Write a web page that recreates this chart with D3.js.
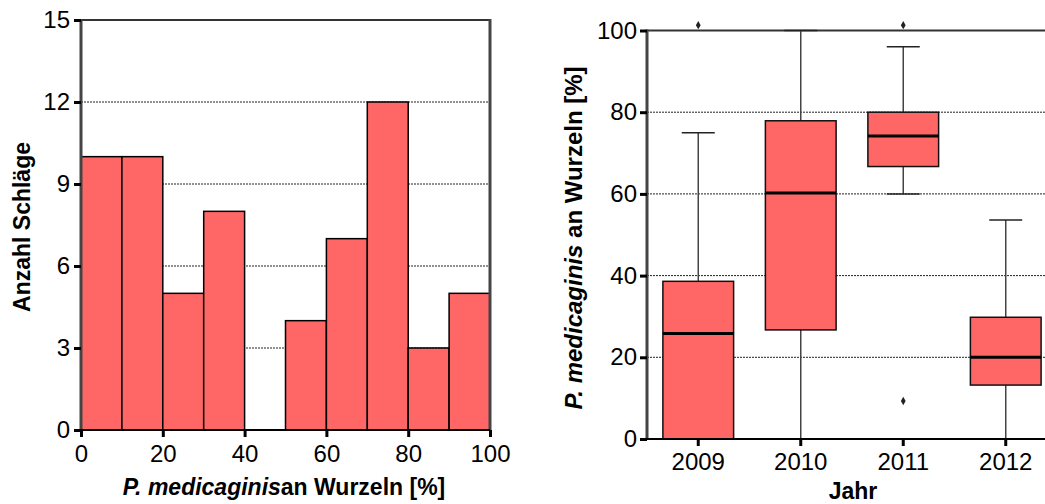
<!DOCTYPE html>
<html>
<head>
<meta charset="utf-8">
<script src="https://cdn.jsdelivr.net/npm/d3@7"></script>
<style>
  body { margin: 0; background: #fff; }
  svg { display: block; font-family: "Liberation Sans", Arial, sans-serif; }
  .tick text { font-size: 24px; fill: #000; }
  .title { font-size: 23px; font-weight: bold; }
</style>
</head>
<body>
<div id="chart"></div>
<script>
// histogram: count per 10% class
var binStarts = [0, 10, 20, 30, 40, 50, 60, 70, 80, 90],
    binCounts = [10, 10, 5, 8, 0, 4, 7, 12, 3, 5],
    histTicksX = [0, 20, 40, 60, 80, 100],
    histTicksY = [0, 3, 6, 9, 12, 15];

// box plot per year
var years = ['2009', '2010', '2011', '2012'],
    whiskLow = [0, 0, 60, 0],
    q1 = [0, 26.7, 66.7, 13.2],
    median = [25.8, 60.2, 74.2, 20],
    q3 = [38.6, 77.9, 80, 29.8],
    whiskHigh = [75, 100, 96, 53.6],
    outliers = [[101.3], [], [101.3, 9.3], []],
    boxTicksY = [0, 20, 40, 60, 80, 100];

const Fill = '#ff6666',
    AxisGrey = '#444';

var svg = d3.select('#chart').append('svg')
    .attr('width', 1045)
    .attr('height', 504);

function grid(g, y, ticks, x0, x1) {
    g.selectAll('.grid')
        .data(ticks.slice(1, -1))
        .enter().append('line')
        .attr('x1', x0).attr('x2', x1)
        .attr('y1', d => y(d)).attr('y2', d => y(d))
        .attr('stroke', '#222')
        .attr('stroke-width', 1)
        .attr('stroke-dasharray', '2,1');
}

function styleAxis(g) {
    g.select('.domain').remove();
    g.selectAll('.tick line').attr('stroke', '#000').attr('stroke-width', 3);
}

// ---- left: histogram
(function () {
    var left = 81, right = 490, top = 20, bottom = 430;
    var x = d3.scaleLinear().domain([0, 100]).range([left, right]),
        y = d3.scaleLinear().domain([0, 15]).range([bottom, top]);
    var g = svg.append('g');

    grid(g, y, histTicksY, left, right);
    g.append('line')
        .attr('x1', left).attr('x2', right).attr('y1', top).attr('y2', top)
        .attr('stroke', '#333').attr('stroke-width', 2);

    g.selectAll('.bar')
        .data(binStarts)
        .enter().append('rect')
        .attr('class', 'bar')
        .attr('x', d => x(d))
        .attr('width', d => x(d + 10) - x(d))
        .attr('y', (d, i) => y(binCounts[i]))
        .attr('height', (d, i) => bottom - y(binCounts[i]))
        .attr('fill', Fill)
        .attr('stroke', '#000')
        .attr('stroke-width', 1.5);

    g.append('line')
        .attr('x1', left).attr('x2', left).attr('y1', top - 1).attr('y2', bottom)
        .attr('stroke', AxisGrey).attr('stroke-width', 3);
    g.append('line')
        .attr('x1', right).attr('x2', right).attr('y1', top - 1).attr('y2', bottom)
        .attr('stroke', AxisGrey).attr('stroke-width', 3);
    g.append('line')
        .attr('x1', left).attr('x2', right).attr('y1', bottom).attr('y2', bottom)
        .attr('stroke', '#000').attr('stroke-width', 2);

    g.append('g')
        .attr('transform', `translate(${left},0)`)
        .call(d3.axisLeft(y).tickValues(histTicksY).tickSize(7).tickPadding(4))
        .call(styleAxis);
    g.append('g')
        .attr('transform', `translate(0,${bottom})`)
        .call(d3.axisBottom(x).tickValues(histTicksX).tickSize(7).tickPadding(8))
        .call(styleAxis);

    var xt = g.append('text').attr('class', 'title')
        .attr('x', 284).attr('y', 495).attr('text-anchor', 'middle');
    xt.append('tspan').attr('font-style', 'italic').text('P. medicaginis');
    xt.append('tspan').text('an Wurzeln [%]');

    g.append('text').attr('class', 'title')
        .attr('transform', 'translate(30,227) rotate(-90)')
        .attr('text-anchor', 'middle')
        .text('Anzahl Schläge');
})();

// ---- right: box plot
(function () {
    var left = 647, right = 1057, top = 30.5, bottom = 439;
    var x = d3.scaleBand().domain(years).range([left, right]).paddingInner(0.31).paddingOuter(0.155),
        y = d3.scaleLinear().domain([0, 100]).range([bottom, top]);
    var g = svg.append('g');
    var bw = x.bandwidth(), cap = 33;

    grid(g, y, boxTicksY, left, right);
    g.append('line')
        .attr('x1', left).attr('x2', right).attr('y1', top).attr('y2', top)
        .attr('stroke', '#333').attr('stroke-width', 2);

    var boxes = g.selectAll('.box')
        .data(years)
        .enter().append('g')
        .attr('class', 'box')
        .attr('transform', d => `translate(${x(d) + bw / 2},0)`);

    boxes.append('line')
        .attr('y1', (d, i) => y(whiskLow[i])).attr('y2', (d, i) => y(whiskHigh[i]))
        .attr('stroke', '#444').attr('stroke-width', 1.5);
    boxes.append('line')
        .attr('x1', -cap / 2).attr('x2', cap / 2)
        .attr('y1', (d, i) => y(whiskHigh[i])).attr('y2', (d, i) => y(whiskHigh[i]))
        .attr('stroke', '#222').attr('stroke-width', 1.5);
    boxes.append('line')
        .attr('x1', -cap / 2).attr('x2', cap / 2)
        .attr('y1', (d, i) => y(whiskLow[i])).attr('y2', (d, i) => y(whiskLow[i]))
        .attr('stroke', '#222').attr('stroke-width', 1.5);
    boxes.append('rect')
        .attr('x', -bw / 2).attr('width', bw)
        .attr('y', (d, i) => y(q3[i]))
        .attr('height', (d, i) => y(q1[i]) - y(q3[i]))
        .attr('fill', Fill)
        .attr('stroke', '#111')
        .attr('stroke-width', 1.5);
    boxes.append('line')
        .attr('x1', -bw / 2).attr('x2', bw / 2)
        .attr('y1', (d, i) => y(median[i])).attr('y2', (d, i) => y(median[i]))
        .attr('stroke', '#000').attr('stroke-width', 3);
    boxes.selectAll('.out')
        .data((d, i) => outliers[i])
        .enter().append('path')
        .attr('class', 'out')
        .attr('d', d3.symbol().type(d3.symbolDiamond).size(20))
        .attr('transform', d => `translate(0,${y(d)})`)
        .attr('fill', '#222');

    g.append('line')
        .attr('x1', left).attr('x2', left).attr('y1', top - 1).attr('y2', bottom)
        .attr('stroke', AxisGrey).attr('stroke-width', 3);
    g.append('line')
        .attr('x1', left).attr('x2', right).attr('y1', bottom).attr('y2', bottom)
        .attr('stroke', '#000').attr('stroke-width', 2);

    g.append('g')
        .attr('transform', `translate(${left},0)`)
        .call(d3.axisLeft(y).tickValues(boxTicksY).tickSize(7).tickPadding(3))
        .call(styleAxis);
    g.append('g')
        .attr('transform', `translate(0,${bottom})`)
        .call(d3.axisBottom(x).tickSize(7).tickPadding(7))
        .call(styleAxis);

    g.append('text').attr('class', 'title')
        .attr('x', 853).attr('y', 499).attr('text-anchor', 'middle')
        .text('Jahr');

    var yt = g.append('text').attr('class', 'title')
        .style('font-size', '24px')
        .attr('transform', 'translate(582,238) rotate(-90)')
        .attr('text-anchor', 'middle');
    yt.append('tspan').attr('font-style', 'italic').text('P. medicaginis');
    yt.append('tspan').text(' an Wurzeln [%]');
})();
</script>
</body>
</html>
